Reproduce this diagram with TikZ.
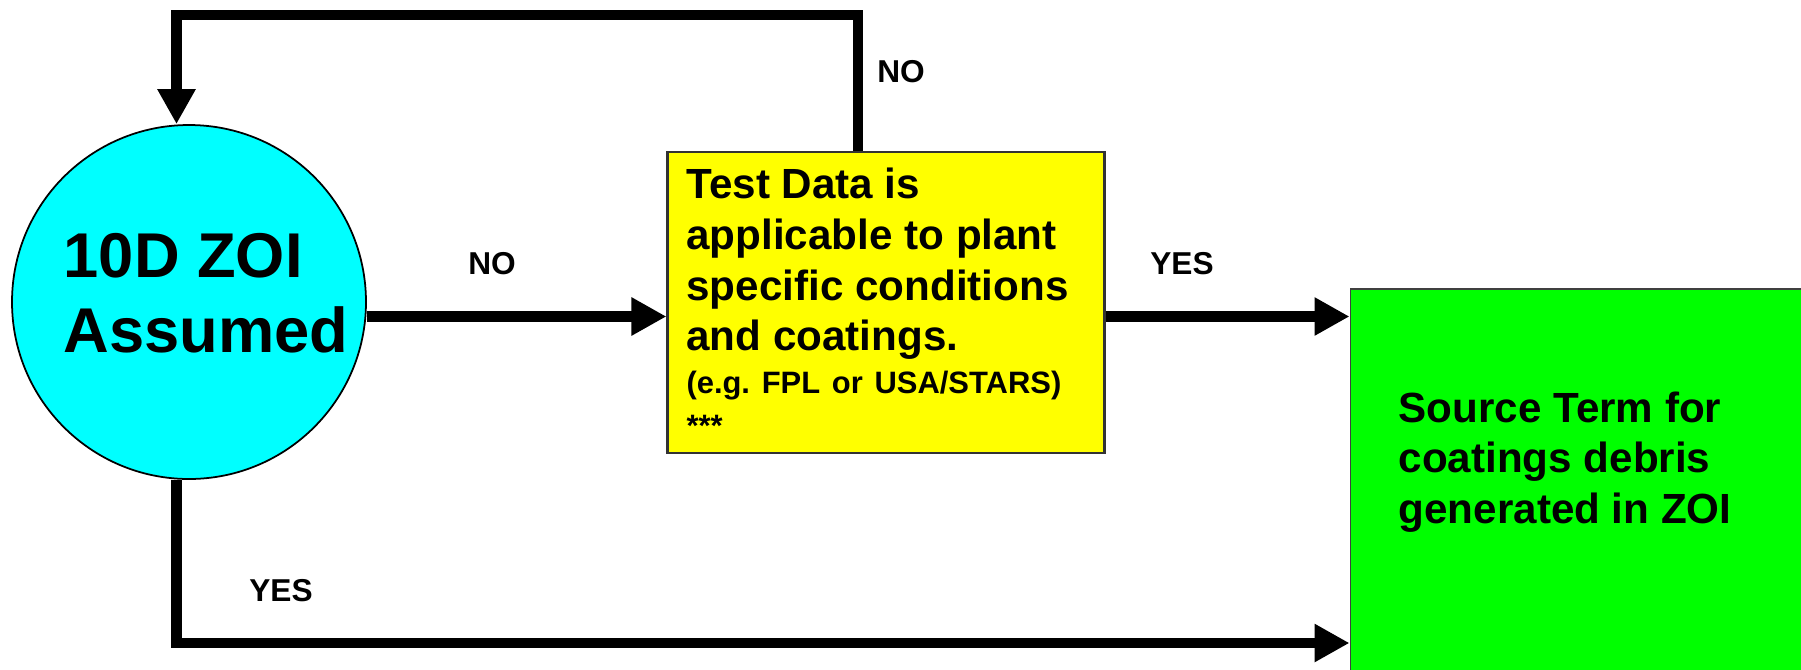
\documentclass[tikz,border=0pt]{standalone}
\usepackage{fontspec}
\setmainfont{Liberation Sans}
\usetikzlibrary{arrows.meta}
\definecolor{zoicyan}{HTML}{00FFFF}
\definecolor{testyellow}{HTML}{FFFF00}
\definecolor{sourcegreen}{HTML}{00FF00}
\frenchspacing

\begin{document}
\begin{tikzpicture}[
    flow/.style={line width=3.1pt, -{Triangle[length=3.5mm,width=3.6mm]}},
    answer/.style={font=\fontsize{9}{10.8}\selectfont\bfseries, inner sep=0pt},
  ]
  \useasboundingbox (0,0) rectangle (18.01,-6.69);
  \clip (0,0) rectangle (18.01,-6.69);

  % boxes
  \node[circle, draw, line width=0.5pt, fill=zoicyan, minimum size=3.54cm, inner sep=0pt] (zoi) at (1.89,-3.02) {};
  \node[anchor=north west, inner sep=0pt, align=left, font=\fontsize{18}{21.3}\selectfont\bfseries]
        (zoitext) at (0.63,-2.33) {10D ZOI\\Assumed};
  \node[draw=black!80, line width=0.6pt, fill=testyellow, text width=3.99cm, inner xsep=0.19cm, inner ysep=0pt,
        minimum height=3.01cm, align=left, font=\bfseries] (test) at (8.86,-3.025)
        {{\fontsize{12}{14.4}\selectfont Test Data is\\applicable to plant\\specific conditions\\and coatings.\par}
         {\fontsize{8.8}{12.2}\selectfont (e.g. FPL or USA/STARS)\\{***}\par}};
  \node[draw=black!75, line width=0.5pt, fill=sourcegreen, minimum width=5cm, minimum height=4.5cm,
        anchor=north west] (source) at (13.495,-2.88) {};
  \node[anchor=north west, inner sep=0pt, align=left, font=\fontsize{12}{14.4}\selectfont\bfseries]
        (sourcetext) at (13.98,-3.91) {Source Term for\\coatings debris\\generated in ZOI};

  % connectors
  \coordinate (midrow) at (0,-3.165);
  \coordinate (toprow) at (1.765,-0.15);
  \coordinate (lowrow) at (1.765,-6.43);
  \draw[flow] (zoi.east |- midrow) -- (test.west |- midrow);
  \draw[flow] (test.east |- midrow) -- (source.west |- midrow);
  \draw[flow] ([xshift=-2.8mm]test.north) |- (toprow) -- (toprow |- zoi.north);
  \draw[flow] (zoi.south -| lowrow) -- (lowrow) -- (lowrow -| source.west);

  % answers
  \node[answer] (notop) at (9.01,-0.72) {NO};
  \node[answer] (nomid) at (4.92,-2.64) {NO};
  \node[answer] (yesmid) at (11.82,-2.64) {YES};
  \node[answer] (yeslow) at (2.81,-5.91) {YES};
\end{tikzpicture}
\end{document}
